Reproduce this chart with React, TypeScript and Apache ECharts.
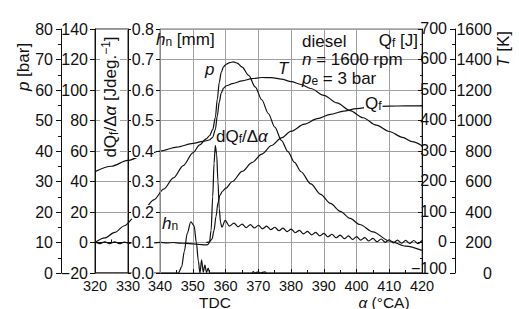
import React, { useEffect, useRef } from "react";
import * as echarts from "echarts";

// ---------- data (crank angle in °CA) ----------
const pressureBar: [number, number][] = [
  [320, 10.0], [323, 11.5], [326, 13.3], [329, 15.5], [332, 18.2], [335, 21.0], [338, 24.0],
  [341, 27.5], [344, 31.2], [347, 35.2], [350, 39.5], [352, 42.0], [354, 44.0], [355, 45.0],
  [356, 47.0], [356.8, 51.0], [357.4, 57.0], [358, 62.5], [358.6, 65.8], [359.3, 67.6],
  [360.2, 68.5], [361.2, 69.0], [362.3, 69.2], [363.5, 68.8], [365, 67.5], [367, 64.8],
  [369, 61.0], [371, 56.8], [373, 52.3], [375, 47.8], [377, 43.5], [379, 39.8], [381, 36.3],
  [383, 33.2], [386, 29.2], [389, 25.8], [392, 22.8], [395, 20.2], [398, 17.9], [401, 15.9],
  [405, 13.5], [410, 10.5], [415, 8.8], [420, 7.4],
];

const temperatureK: [number, number][] = [
  [320, 665], [325, 700], [330, 738], [335, 772], [340, 800], [345, 826], [350, 850],
  [353, 863], [355, 872], [356, 890], [356.8, 940], [357.4, 1030], [358, 1120], [358.6, 1180],
  [359.3, 1212], [360.2, 1228], [362, 1242], [365, 1260], [368, 1274], [371, 1282], [374, 1281],
  [377, 1271], [380, 1255], [383, 1236], [386, 1210], [390, 1165], [394, 1115], [398, 1065],
  [402, 1018], [406, 970], [410, 928], [414, 890], [417, 862], [420, 835],
];

const heatReleasedJ: [number, number][] = [
  [354, 0], [355, 2], [355.8, 12], [356.4, 40], [357, 85], [357.6, 130], [358.2, 155],
  [359, 168], [360, 178], [362, 200], [365, 233], [368, 262], [371, 290], [374, 318],
  [377, 343], [380, 365], [384, 388], [388, 406], [392, 420], [396, 431], [400, 439],
  [405, 445], [410, 447], [415, 448], [420, 448],
];

const heatRateJdeg: [number, number][] = [
  [320, 0.4], [321.5, -0.7], [323, 0.5], [324.5, -0.8], [326, 0.4], [327.5, -0.8], [329, 0.3],
  [330.5, -0.6], [332, 0.2], [334, -0.3], [336, 0.2], [338, -0.3], [340, 0.1], [342, -0.3],
  [344, 0.0], [346, -0.4], [348, -0.6], [350, -0.9], [352, -1.3], [353.5, -1.6], [354.5, -1.4],
  [355, 0], [355.5, 8], [356, 30], [356.4, 52], [356.8, 63.5], [357.2, 58], [357.6, 40],
  [358, 22], [358.4, 13], [358.8, 10], [359.8, 14.5], [361.1, 10.8], [362.5, 12.7],
  [363.75, 10.3], [365, 12.1], [366.25, 9.8], [367.5, 11.7], [368.75, 9.5], [370, 11.3],
  [371.25, 9.0], [372.5, 10.7], [373.75, 8.4], [375, 10.0], [376.25, 7.7], [377.5, 9.4],
  [378.75, 7.1], [380, 8.8], [381.25, 6.4], [382.5, 8.0], [383.75, 5.7], [385, 7.3],
  [386.25, 5.0], [387.5, 6.6], [388.75, 4.3], [390, 6.0], [391.25, 3.7], [392.5, 5.4],
  [393.75, 3.1], [395, 4.8], [396.25, 2.5], [397.5, 4.3], [398.75, 2.0], [400, 3.8],
  [401.25, 1.5], [402.5, 3.2], [403.75, 1.0], [405, 2.7], [406.25, 0.5], [407.5, 2.3],
  [408.75, 0.1], [410, 1.8], [411.25, -0.3], [412.5, 1.6], [413.75, -0.5], [415, 1.4],
  [416.25, -0.6], [417.5, 1.3], [418.75, -0.7], [420, 1.3],
];

const needleLiftMm: [number, number][] = [
  [320, 0], [345.5, 0], [346.5, 0.02], [347.3, 0.07], [348.2, 0.13], [349.3, 0.168],
  [350.3, 0.155], [351, 0.1], [351.6, 0.04], [352.1, 0], [352.6, 0.043], [353.1, 0.003],
  [353.6, 0.026], [354.1, 0.002], [354.6, 0.016], [355.1, 0], [368, 0], [368.4, 0.005],
  [368.8, 0], [370, 0.004], [370.4, 0], [372, 0.004], [372.4, 0], [420, 0],
];

// axis ranges
const angleRange = [320, 420];
const leftPanelRange = [320, 330];
const mainPanelRange = [340, 420];
const pAxis = { min: 0, max: 80, step: 10 };
const dqAxis = { min: -20, max: 140, step: 20 };
const qfAxis = { min: -100, max: 700, step: 100 };
const tAxis = { min: 0, max: 1600, step: 200 };
const hnAxis = { min: 0, max: 0.8, step: 0.1 };

const FF = "'Liberation Sans', Arial, Helvetica, sans-serif";
const INK = "#111";
const GRID = "#a0a0a0";

const minus = (v: number) => (v < 0 ? "\u2212" + Math.abs(v) : String(v));

function rich(size: number, lh: number) {
  const small = Math.round(size * 0.72);
  return {
    n: { fontSize: size, fontFamily: FF, lineHeight: lh, fill: INK },
    i: { fontSize: size, fontFamily: FF, fontStyle: "italic", lineHeight: lh, fill: INK },
    s: { fontSize: small, fontFamily: FF, lineHeight: Math.max(lh - 10, 4), verticalAlign: "bottom", fill: INK },
    u: { fontSize: small, fontFamily: FF, lineHeight: Math.max(lh - 10, 4), verticalAlign: "top", fill: INK },
  };
}

function txt(text: string, x: number, y: number, opts: any = {}) {
  const size = opts.size || 17;
  const lh = opts.lh || 17;
  const align = opts.align || "left";
  const va = opts.va || "top";
  return {
    type: "text",
    x,
    y,
    rotation: opts.rotation || 0,
    z: 100,
    style: {
      text,
      rich: rich(size, lh),
      fontSize: size,
      fontFamily: FF,
      fill: INK,
      align,
      textAlign: align,
      verticalAlign: va,
      textVerticalAlign: va,
      backgroundColor: opts.bg || undefined,
      padding: opts.bg ? [0, 1] : undefined,
    },
  };
}

const yLabel = { fontSize: 16, fontFamily: FF, color: INK, lineHeight: 14 };
const xLabel = { fontSize: 14.5, fontFamily: FF, color: INK, lineHeight: 14 };

function buildOption(): any {
  const hiddenY = (r: { min: number; max: number }) => ({ gridIndex: 0, type: "value", min: r.min, max: r.max, show: false });
  const line = (name: string, data: [number, number][], yIdx: number) => ({
    name,
    type: "line",
    xAxisIndex: 0,
    yAxisIndex: yIdx,
    data,
    showSymbol: false,
    smooth: 0.3,
    smoothMonotone: "x",
    lineStyle: { color: INK, width: 1.2 },
    z: 5,
  });

  return {
    animation: false,
    backgroundColor: "#fff",
    grid: [
      { left: 95, top: 29, width: 327, height: 244, show: false },
      { left: 95, top: 29, width: 33, height: 244, show: true, borderColor: "#222", borderWidth: 1, backgroundColor: "transparent" },
      { left: 160, top: 29, width: 262, height: 244, show: true, borderColor: "#777", borderWidth: 1, backgroundColor: "transparent" },
    ],
    xAxis: [
      { gridIndex: 0, type: "value", min: angleRange[0], max: angleRange[1], show: false },
      {
        gridIndex: 1, type: "value", min: leftPanelRange[0], max: leftPanelRange[1], interval: 10,
        axisLine: { lineStyle: { color: INK } },
        axisTick: { inside: true, length: 4, lineStyle: { color: INK } },
        minorTick: { show: true, splitNumber: 2, length: 3, lineStyle: { color: INK } },
        axisLabel: { ...xLabel, margin: 6 },
        splitLine: { show: false },
      },
      {
        gridIndex: 2, type: "value", min: mainPanelRange[0], max: mainPanelRange[1], interval: 10,
        axisLine: { lineStyle: { color: INK } },
        axisTick: { inside: true, length: 4, lineStyle: { color: INK } },
        minorTick: { show: true, splitNumber: 2, length: 3, lineStyle: { color: INK } },
        axisLabel: { ...xLabel, margin: 6 },
        splitLine: { show: true, lineStyle: { color: GRID, width: 1 } },
      },
    ],
    yAxis: [
      hiddenY(pAxis), // 0
      hiddenY(dqAxis), // 1
      hiddenY(qfAxis), // 2
      hiddenY(tAxis), // 3
      hiddenY(hnAxis), // 4
      { // 5 dQ axis on left panel
        gridIndex: 1, type: "value", position: "left", min: dqAxis.min, max: dqAxis.max, interval: dqAxis.step,
        axisLine: { show: true, lineStyle: { color: INK } },
        axisTick: { show: true, length: 5, lineStyle: { color: INK } },
        axisLabel: { ...yLabel, margin: 7, formatter: (v: number) => minus(v) },
        splitLine: { show: true, lineStyle: { color: GRID } },
      },
      { // 6 mirror ticks on 330 edge
        gridIndex: 1, type: "value", position: "right", min: dqAxis.min, max: dqAxis.max, interval: dqAxis.step,
        axisLine: { show: true, lineStyle: { color: INK } },
        axisTick: { show: true, length: 3, lineStyle: { color: INK } },
        axisLabel: { show: false },
        splitLine: { show: false },
      },
      { // 7 pressure axis
        gridIndex: 1, type: "value", position: "left", offset: 34, min: pAxis.min, max: pAxis.max, interval: pAxis.step,
        axisLine: { show: true, lineStyle: { color: INK } },
        axisTick: { show: true, length: 5, lineStyle: { color: INK } },
        minorTick: { show: true, splitNumber: 2, length: 3, lineStyle: { color: INK } },
        axisLabel: { ...yLabel, margin: 8 },
        splitLine: { show: false },
      },
      { // 8 needle lift labels (above curves)
        gridIndex: 2, type: "value", position: "left", min: hnAxis.min, max: hnAxis.max, interval: hnAxis.step, z: 10,
        axisLine: { show: true, lineStyle: { color: "#888" } },
        axisTick: { show: true, length: 4, lineStyle: { color: INK } },
        axisLabel: { ...yLabel, margin: 6, backgroundColor: "#fff", formatter: (v: number) => v.toFixed(1) },
        splitLine: { show: false },
      },
      { // 9 main panel horizontal grid
        gridIndex: 2, type: "value", min: hnAxis.min, max: hnAxis.max, interval: hnAxis.step,
        axisLine: { show: false }, axisTick: { show: false }, axisLabel: { show: false },
        splitLine: { show: true, lineStyle: { color: GRID } },
      },
      { // 10 Qf axis
        gridIndex: 2, type: "value", position: "right", offset: 33, min: qfAxis.min, max: qfAxis.max, interval: qfAxis.step,
        axisLine: { show: true, lineStyle: { color: INK } },
        axisTick: { show: true, inside: true, length: 5, lineStyle: { color: INK } },
        minorTick: { show: true, splitNumber: 2, length: 3, lineStyle: { color: INK } },
        axisLabel: {
          ...yLabel, lineHeight: 12, inside: true, margin: 8, padding: [0, 0, 2, 0],
          formatter: (v: number) => (v === qfAxis.min ? "{lo|" + minus(v) + "}" : minus(v)),
          rich: { lo: { fontSize: 16, fontFamily: FF, color: INK, lineHeight: 12, padding: [0, 0, 7, 0] } },
        },
        splitLine: { show: false },
      },
      { // 11 T labels
        gridIndex: 2, type: "value", position: "right", offset: 33, min: tAxis.min, max: tAxis.max, interval: tAxis.step,
        axisLine: { show: false }, axisTick: { show: false },
        axisLabel: { ...yLabel, align: "right", margin: 37, padding: [4, 0, 0, 0], formatter: (v: number) => String(v) },
        splitLine: { show: false },
      },
      { // 12 right frame ticks
        gridIndex: 2, type: "value", position: "right", min: pAxis.min, max: pAxis.max, interval: pAxis.step,
        axisLine: { show: true, lineStyle: { color: INK } },
        axisTick: { show: true, inside: true, length: 4, lineStyle: { color: INK } },
        minorTick: { show: true, splitNumber: 2, length: 2, lineStyle: { color: INK } },
        axisLabel: { show: false },
        splitLine: { show: false },
      },
    ],
    series: [
      line("p", pressureBar, 0),
      line("T", temperatureK, 3),
      line("Qf", heatReleasedJ, 2),
      line("dQf/dα", heatRateJdeg, 1),
      line("hn", needleLiftMm, 4),
    ],
    graphic: [
      txt("{i|p}{n| [bar]}", 23, 67, { rotation: Math.PI / 2, align: "center", va: "middle", lh: 20 }),
      txt("{n|dQ}{s|f}{n|/\u0394}{i|\u03b1}{n| [Jdeg.}{u|\u22121}{n|]}", 110, 97, { rotation: Math.PI / 2, align: "center", va: "middle", bg: "#fff", lh: 20 }),
      txt("{i|h}{s|n}{n| [mm]}", 156, 31),
      txt("{n|diesel}", 302, 33),
      txt("{i|n}{n| = 1600 rpm}", 302, 50.5),
      txt("{i|p}{s|e}{n| = 3 bar}", 302, 69.5),
      txt("{n|Q}{s|f}{n| [J]}", 418, 32, { align: "right" }),
      txt("{i|p}", 205, 61),
      txt("{i|T}", 278, 60),
      txt("{n|dQ}{s|f}{n|/\u0394}{i|\u03b1}", 216, 128),
      txt("{n|Q}{s|f}", 364, 95, { bg: "#fff" }),
      txt("{i|h}{s|n}", 162, 215),
      txt("{n|TDC}", 215, 295, { align: "center", size: 15.5, lh: 14 }),
      txt("{i|\u03b1}{n| (\u00b0CA)}", 384, 295, { align: "center", size: 15.5, lh: 14 }),
      txt("{i|T}{n| [K]}", 503, 49, { rotation: Math.PI / 2, align: "center", va: "middle", lh: 20 }),
    ],
  };
}

export default function App() {
  const ref = useRef<HTMLDivElement>(null);
  useEffect(() => {
    if (!ref.current) return;
    const chart = echarts.init(ref.current, null, { renderer: "svg" });
    chart.setOption(buildOption());
    return () => chart.dispose();
  }, []);
  return (
    <div
      ref={ref}
      style={{ position: "absolute", left: 0, top: 0, width: 519, height: 309, background: "#fff" }}
    />
  );
}
